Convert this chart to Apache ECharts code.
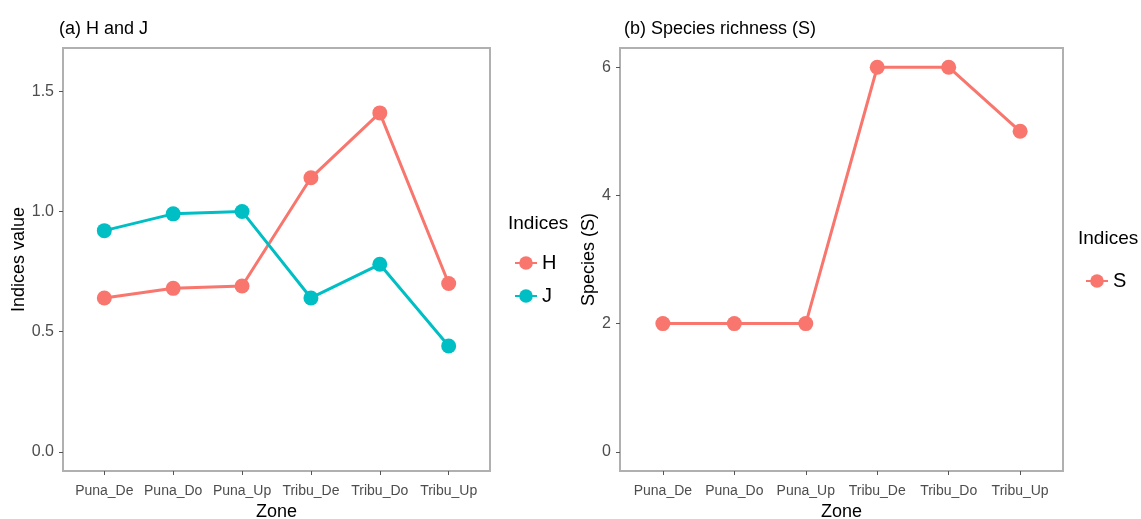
<!DOCTYPE html>
<html>
<head>
<meta charset="utf-8">
<script src="https://cdn.jsdelivr.net/npm/echarts@6/dist/echarts.min.js"></script>
<style>body{margin:0;background:#fff}#chart{width:1141px;height:519px}</style>
</head>
<body>
<div id="chart"></div>
<script>
// data
var zones = ['Puna_De', 'Puna_Do', 'Puna_Up', 'Tribu_De', 'Tribu_Do', 'Tribu_Up'];
var hValues = [0.64, 0.68, 0.69, 1.14, 1.41, 0.70];
var jValues = [0.92, 0.99, 1.00, 0.64, 0.78, 0.44];
var sValues = [2, 2, 2, 6, 6, 5];
var ticksA = [0, 0.5, 1.0, 1.5];
var ticksB = [0, 2, 4, 6];

var RED = '#F8766D', TEAL = '#00BFC4';
var FONT = "'Liberation Sans Narrow', 'Liberation Sans', Arial, sans-serif";
var idx = zones.map(function (z, i) { return i; });

function pairs(vals) { return vals.map(function (v, i) { return [i, v]; }); }

function xAxis(gi) {
  return {
    type: 'value', gridIndex: gi, min: -0.6, max: 5.6,
    name: 'Zone', nameLocation: 'middle', nameGap: 30,
    nameTextStyle: { fontFamily: FONT, fontSize: 18, color: '#000' },
    axisLine: { show: false, onZero: false },
    splitLine: { show: false },
    axisTick: { show: true, customValues: idx, length: 4, lineStyle: { color: '#555' } },
    axisLabel: { customValues: idx, formatter: function (v) { return zones[Math.round(v)]; },
      fontFamily: FONT, fontSize: 14, color: '#4d4d4d', margin: 13 }
  };
}

function yAxis(gi, name, gap, min, max, ticks, dec) {
  return {
    type: 'value', gridIndex: gi, min: min, max: max,
    name: name, nameLocation: 'middle', nameGap: gap, nameRotate: 90,
    nameTextStyle: { fontFamily: FONT, fontSize: 18, color: '#000' },
    axisLine: { show: false, onZero: false },
    splitLine: { show: false },
    axisTick: { show: true, customValues: ticks, length: 4, lineStyle: { color: '#555' } },
    axisLabel: { customValues: ticks, formatter: function (v) { return v.toFixed(dec); },
      fontFamily: FONT, fontSize: 16, color: '#4d4d4d', margin: 9 }
  };
}

function line(name, vals, color, xi) {
  return {
    name: name, type: 'line', xAxisIndex: xi, yAxisIndex: xi, data: pairs(vals),
    symbol: 'circle', symbolSize: 15, itemStyle: { color: color },
    lineStyle: { color: color, width: 3 }, animation: false
  };
}

var titleStyle = { fontFamily: FONT, fontSize: 18, fontWeight: 'normal', color: '#000' };
var legendTitleStyle = { fontFamily: FONT, fontSize: 19, fontWeight: 'normal', color: '#000' };

var chart = echarts.init(document.getElementById('chart'));
chart.setOption({
  animation: false,
  title: [
    { text: '(a) H and J', left: 54, top: 15, textStyle: titleStyle },
    { text: '(b) Species richness (S)', left: 619, top: 15, textStyle: titleStyle },
    { text: 'Indices', left: 503, top: 209, textStyle: legendTitleStyle },
    { text: 'Indices', left: 1073, top: 224, textStyle: legendTitleStyle }
  ],
  legend: [
    { data: ['H', 'J'], orient: 'vertical', left: 509, top: 248, itemGap: 13, itemWidth: 22, itemHeight: 17,
      textStyle: { fontFamily: FONT, fontSize: 20, color: '#000' } },
    { data: ['S'], orient: 'vertical', left: 1080, top: 266, itemWidth: 22, itemHeight: 17,
      textStyle: { fontFamily: FONT, fontSize: 20, color: '#000' } }
  ],
  grid: [
    { left: 63, top: 48, width: 427, height: 423, outerBoundsMode: 'none', containLabel: false,
      show: true, borderColor: '#b0b0b0', borderWidth: 2, backgroundColor: '#fff' },
    { left: 620, top: 48, width: 443, height: 423, outerBoundsMode: 'none', containLabel: false,
      show: true, borderColor: '#b0b0b0', borderWidth: 2, backgroundColor: '#fff' }
  ],
  xAxis: [xAxis(0), xAxis(1)],
  yAxis: [
    yAxis(0, 'Indices value', 31, -0.08, 1.68, ticksA, 1),
    yAxis(1, 'Species (S)', 15, -0.3, 6.3, ticksB, 0)
  ],
  series: [
    line('H', hValues, RED, 0),
    line('J', jValues, TEAL, 0),
    line('S', sValues, RED, 1)
  ]
});
</script>
</body>
</html>
